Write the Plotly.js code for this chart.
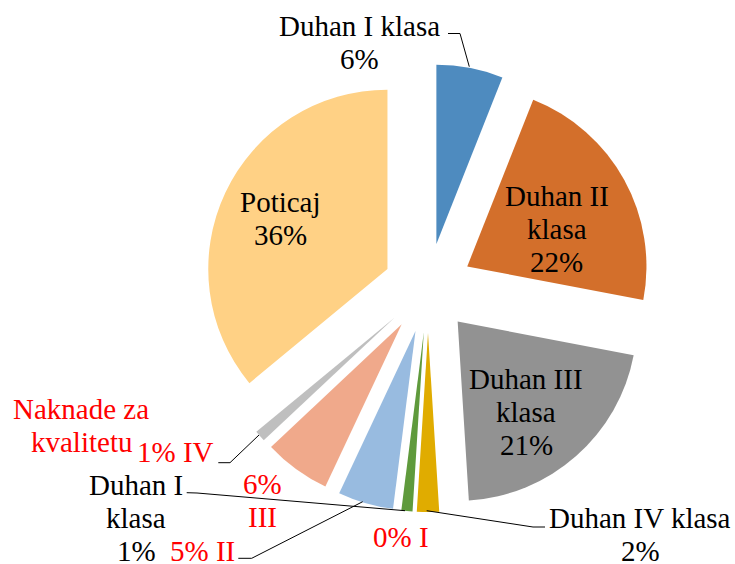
<!DOCTYPE html>
<html>
<head>
<meta charset="utf-8">
<script src="https://cdn.plot.ly/plotly-3.0.1.min.js"></script>
<style>html,body{margin:0;padding:0;background:#fff;}#chart{width:735px;height:564px;}</style>
</head>
<body>
<div id="chart"></div>
<script>
// ---- data ----
const sliceNames = ["Duhan I klasa", "Duhan II klasa", "Duhan III klasa", "Duhan IV klasa", "Duhan I klasa", "I", "II", "III", "IV", "Poticaj"];
const sliceValues = [6, 22, 21, 2, 1, 0, 5, 6, 1, 36];
const groupTitle = ["Naknade za", "kvalitetu"];
const sliceColors = ["#4E8BBF", "#D36F2B", "#929292", "#E0AC00", "#5F9A3C", "#4A7EBB", "#98BBE0", "#F0A98B", "#BFBFBF", "#FFD185"];

// ---- layout helpers ----
const W = 735, H = 564;
const FS = 29;
const FONT = "Liberation Serif";
const px = x => x / W;
const py = y => 1 - y / H;
const pct = i => sliceValues[i] + "%";
function splitLast(s) { const k = s.lastIndexOf(" "); return [s.slice(0, k), s.slice(k + 1)]; }

// label specs: text lines, centre x, first baseline, colour
const labelSpecs = [
  {lines: [sliceNames[0], pct(0)], x: 359, y0: 36, c: "#000"},
  {lines: [...splitLast(sliceNames[1]), pct(1)], x: 556.5, y0: 205.7, c: "#000"},
  {lines: [...splitLast(sliceNames[2]), pct(2)], x: 526, y0: 389, c: "#000"},
  {lines: [sliceNames[3], pct(3)], x: 640, y0: 527.3, c: "#000"},
  {lines: [...splitLast(sliceNames[4]), pct(4)], x: 136, y0: 495, c: "#000"},
  {lines: [pct(5) + " " + sliceNames[5]], x: 400.5, y0: 546.7, c: "#FF0000"},
  {lines: [pct(6) + " " + sliceNames[6]], x: 202.5, y0: 561, c: "#FF0000"},
  {lines: [pct(7), sliceNames[7]], x: 262.5, y0: 493.3, c: "#FF0000"},
  {lines: [pct(8) + " " + sliceNames[8]], x: 175, y0: 461.7, c: "#FF0000"},
  {lines: [sliceNames[9], pct(9)], x: 280, y0: 211.7, c: "#000"},
  {lines: groupTitle, x: 81, y0: 418.3, c: "#FF0000"}
];
const LH = 33;
const annotations = [];
labelSpecs.forEach(s => {
  s.lines.forEach((t, j) => {
    annotations.push({
      xref: "paper", yref: "paper", x: px(s.x), y: py(s.y0 + j * LH - 9.8),
      text: t, showarrow: false, xanchor: "center", yanchor: "middle",
      font: {family: FONT, size: FS, color: s.c}
    });
  });
});

// leader lines (pixel points)
const leaders = [
  [[448, 33.5], [460, 33.5], [469.3, 66.7]],
  [[545, 527], [533, 527], [426.7, 510.7]],
  [[238.3, 558.3], [251.7, 558.3], [362.7, 501.7]],
  [[218.3, 462.7], [230, 462.7], [259, 435]],
  [[186.7, 492.7], [197, 493], [405, 510.7]]
];
const shapes = leaders.map(pts => ({
  type: "path", xref: "paper", yref: "paper",
  path: pts.map((p, i) => (i ? "L" : "M") + px(p[0]) + "," + py(p[1])).join(" "),
  line: {color: "#000", width: 1}
}));

const trace = {
  type: "pie",
  values: sliceValues,
  labels: sliceNames.map((n, i) => n + " #" + (i + 1)),
  sort: false,
  direction: "clockwise",
  rotation: 0,
  pull: 0.25,
  marker: {colors: sliceColors, line: {width: 0}},
  textinfo: "none",
  hoverinfo: "none",
  showlegend: false,
  domain: {x: [204 / W, 652 / W], y: [52 / H, 500 / H]}
};

const layout = {
  width: W, height: H,
  margin: {l: 0, r: 0, t: 0, b: 0},
  paper_bgcolor: "#fff",
  showlegend: false,
  annotations: annotations,
  shapes: shapes
};
Plotly.newPlot("chart", [trace], layout, {displayModeBar: false, staticPlot: true});
</script>
</body>
</html>
